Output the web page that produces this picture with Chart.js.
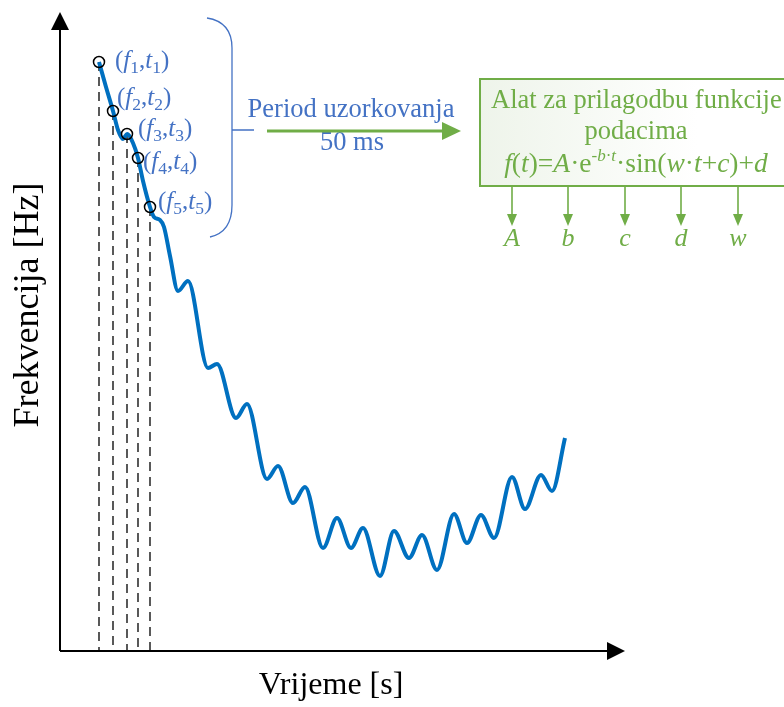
<!DOCTYPE html>
<html>
<head>
<meta charset="utf-8">
<script src="https://cdn.jsdelivr.net/npm/chart.js@4/dist/chart.umd.min.js"></script>
<style>
  html, body { margin: 0; padding: 0; background: #fff; }
  #wrap { width: 784px; height: 707px; position: relative; }
</style>
</head>
<body>
<div id="wrap"><canvas id="freqChart" width="784" height="707"></canvas></div>
<script>
// time / frequency readings of the measured curve (arbitrary units)
const timeValues = [39, 46, 53, 58, 63, 67, 73, 78, 83, 90, 94, 100, 104, 110, 118, 128, 148, 157, 176, 187,
  207, 218, 233, 245, 263, 277, 291, 303, 320, 334, 349, 362, 377, 394, 407, 421, 434, 452, 465, 481, 492, 505];
const freqValues = [589, 564, 540, 521, 512, 517, 508, 493, 470, 444, 434, 431, 424, 395, 360, 370, 283, 287, 233, 247,
  172, 185, 148, 164, 103, 133, 103, 123, 75, 120, 93, 116, 81, 137, 108, 136, 113, 174, 142, 176, 160, 213];

// sampled points (f1,t1) ... (f5,t5)
const sampleIdx = [0, 2, 5, 7, 9];
const sampleLabels = ['1', '2', '3', '4', '5'];

// fitted parameters listed under the fitting box
const paramLabels = ['A', 'b', 'c', 'd', 'w'];

const BLUE = '#0070C0';
const TXT_BLUE = '#4472C4';
const GREEN = '#70AD47';
const SERIF = '"Liberation Serif", "Times New Roman", serif';

const curve = timeValues.map((t, i) => ({ x: t, y: freqValues[i] }));
const samples = sampleIdx.map(i => curve[i]);

// draw text made of pieces: {t, it, sub, sup}
function partSize(p, size) {
  if (p.sub) return size * 0.7;
  if (p.sup) return size * 0.62;
  return size;
}
function richWidth(ctx, parts, size) {
  let w = 0;
  parts.forEach(p => {
    ctx.font = (p.it ? 'italic ' : '') + partSize(p, size) + 'px ' + SERIF;
    w += ctx.measureText(p.t).width;
  });
  return w;
}
function drawRich(ctx, x, y, parts, size, color, align) {
  let cx = x;
  if (align === 'center') cx = x - richWidth(ctx, parts, size) / 2;
  ctx.fillStyle = color;
  ctx.textBaseline = 'alphabetic';
  ctx.textAlign = 'left';
  parts.forEach(p => {
    ctx.font = (p.it ? 'italic ' : '') + partSize(p, size) + 'px ' + SERIF;
    let dy = 0;
    if (p.sub) dy = size * 0.2;
    if (p.sup) dy = -size * 0.4;
    ctx.fillText(p.t, cx, y + dy);
    cx += ctx.measureText(p.t).width;
  });
}

function arrowHead(ctx, tipX, tipY, dir, len, half) {
  ctx.beginPath();
  if (dir === 'up') {
    ctx.moveTo(tipX, tipY); ctx.lineTo(tipX - half, tipY + len); ctx.lineTo(tipX + half, tipY + len);
  } else if (dir === 'right') {
    ctx.moveTo(tipX, tipY); ctx.lineTo(tipX - len, tipY - half); ctx.lineTo(tipX - len, tipY + half);
  } else {
    ctx.moveTo(tipX, tipY); ctx.lineTo(tipX - half, tipY - len); ctx.lineTo(tipX + half, tipY - len);
  }
  ctx.closePath();
  ctx.fill();
}

const diagramPlugin = {
  id: 'diagram',
  beforeDatasetsDraw(chart) {
    const ctx = chart.ctx;
    const a = chart.chartArea;
    ctx.save();
    // axes with arrows
    ctx.strokeStyle = '#000';
    ctx.fillStyle = '#000';
    ctx.lineWidth = 2;
    ctx.beginPath();
    ctx.moveTo(a.left, a.bottom); ctx.lineTo(a.left, a.top + 14);
    ctx.moveTo(a.left, a.bottom); ctx.lineTo(a.right - 14, a.bottom);
    ctx.stroke();
    arrowHead(ctx, a.left, a.top - 3, 'up', 18, 9);
    arrowHead(ctx, a.right, a.bottom, 'right', 18, 9);

    // axis titles
    ctx.textAlign = 'center';
    ctx.textBaseline = 'middle';
    ctx.font = '32px ' + SERIF;
    ctx.fillText('Vrijeme [s]', 331, 686);
    ctx.save();
    ctx.translate(29, 305);
    ctx.rotate(-Math.PI / 2);
    ctx.font = '36px ' + SERIF;
    ctx.fillText('Frekvencija [Hz]', 0, 0);
    ctx.restore();
    ctx.restore();
  },
  afterDraw(chart) {
    const ctx = chart.ctx;
    const xs = chart.scales.x, ys = chart.scales.y;
    ctx.save();

    // sample labels (f_i,t_i), offset from each circle
    const offs = [[16, 6], [4, -6], [11, 2], [5, 11], [8, 2]];
    samples.forEach((p, i) => {
      const px = xs.getPixelForValue(p.x) + offs[i][0];
      const py = ys.getPixelForValue(p.y) + offs[i][1];
      const n = sampleLabels[i];
      drawRich(ctx, px, py, [
        { t: '(' }, { t: 'f', it: true }, { t: n, sub: true },
        { t: ',' }, { t: 't', it: true }, { t: n, sub: true }, { t: ')' }
      ], 25, TXT_BLUE);
    });

    // brace around the samples
    ctx.strokeStyle = TXT_BLUE;
    ctx.lineWidth = 1.3;
    ctx.beginPath();
    ctx.moveTo(207, 18);
    ctx.quadraticCurveTo(232, 22, 232, 48);
    ctx.lineTo(232, 205);
    ctx.quadraticCurveTo(232, 232, 210, 237);
    ctx.moveTo(232, 130);
    ctx.lineTo(254, 130);
    ctx.stroke();

    // sampling period
    ctx.fillStyle = TXT_BLUE;
    ctx.font = '26.5px ' + SERIF;
    ctx.textAlign = 'center';
    ctx.textBaseline = 'middle';
    ctx.fillText('Period uzorkovanja', 351, 110);
    ctx.fillText('50 ms', 352, 143);

    // green arrow into the fitting box
    ctx.strokeStyle = GREEN;
    ctx.fillStyle = GREEN;
    ctx.lineWidth = 3;
    ctx.beginPath();
    ctx.moveTo(267, 131); ctx.lineTo(445, 131);
    ctx.stroke();
    arrowHead(ctx, 461, 131, 'right', 19, 9);

    // fitting box
    const g = ctx.createLinearGradient(480, 0, 790, 0);
    g.addColorStop(0, '#eef4ea');
    g.addColorStop(0.7, '#ffffff');
    ctx.fillStyle = g;
    ctx.fillRect(480, 79, 312, 107);
    ctx.strokeStyle = GREEN;
    ctx.lineWidth = 2;
    ctx.strokeRect(480, 79, 312, 107);

    ctx.fillStyle = GREEN;
    ctx.font = '26.5px ' + SERIF;
    ctx.textAlign = 'left';
    ctx.textBaseline = 'middle';
    ctx.fillText('Alat za prilagodbu funkcije', 491, 101);
    ctx.textAlign = 'center';
    ctx.fillText('podacima', 636, 132);
    drawRich(ctx, 636, 172, [
      { t: 'f', it: true }, { t: '(' }, { t: 't', it: true }, { t: ')=' }, { t: 'A', it: true }, { t: '·e' },
      { t: '-', sup: true }, { t: 'b', it: true, sup: true }, { t: '·', sup: true }, { t: 't', it: true, sup: true },
      { t: '·sin(' }, { t: 'w', it: true }, { t: '·' }, { t: 't', it: true }, { t: '+' }, { t: 'c', it: true },
      { t: ')+' }, { t: 'd', it: true }
    ], 27.5, GREEN, 'center');

    // output arrows and parameter names
    const outX = [512, 568, 625, 681, 738];
    ctx.strokeStyle = GREEN;
    ctx.lineWidth = 1.6;
    outX.forEach((x, i) => {
      ctx.beginPath();
      ctx.moveTo(x, 187); ctx.lineTo(x, 215);
      ctx.stroke();
      arrowHead(ctx, x, 226, 'down', 12, 5);
      ctx.fillStyle = GREEN;
      ctx.font = 'italic 26px ' + SERIF;
      ctx.textAlign = 'center';
      ctx.textBaseline = 'middle';
      ctx.fillText(paramLabels[i], x, 239);
    });
    ctx.restore();
  }
};

const dashSets = samples.map(p => ({
  type: 'line',
  data: [{ x: p.x, y: p.y }, { x: p.x, y: 0 }],
  borderColor: '#000',
  borderWidth: 1.3,
  borderDash: [9, 6],
  pointRadius: 0,
  fill: false
}));

new Chart(document.getElementById('freqChart').getContext('2d'), {
  type: 'line',
  data: {
    datasets: [
      {
        label: 'samples',
        data: samples,
        showLine: false,
        pointRadius: 5.5,
        pointBorderColor: '#000',
        pointBackgroundColor: 'rgba(0,0,0,0)',
        pointBorderWidth: 1.5
      },
      {
        label: 'frequency',
        data: curve,
        borderColor: BLUE,
        borderWidth: 4,
        pointRadius: 0,
        cubicInterpolationMode: 'monotone',
        fill: false
      },
      ...dashSets
    ]
  },
  options: {
    responsive: false,
    animation: false,
    layout: { padding: { left: 60, right: 159, top: 15, bottom: 56 } },
    plugins: { legend: { display: false }, tooltip: { enabled: false } },
    scales: {
      x: { type: 'linear', min: 0, max: 565, display: false },
      y: { type: 'linear', min: 0, max: 636, display: false }
    }
  },
  plugins: [diagramPlugin]
});
</script>
</body>
</html>
